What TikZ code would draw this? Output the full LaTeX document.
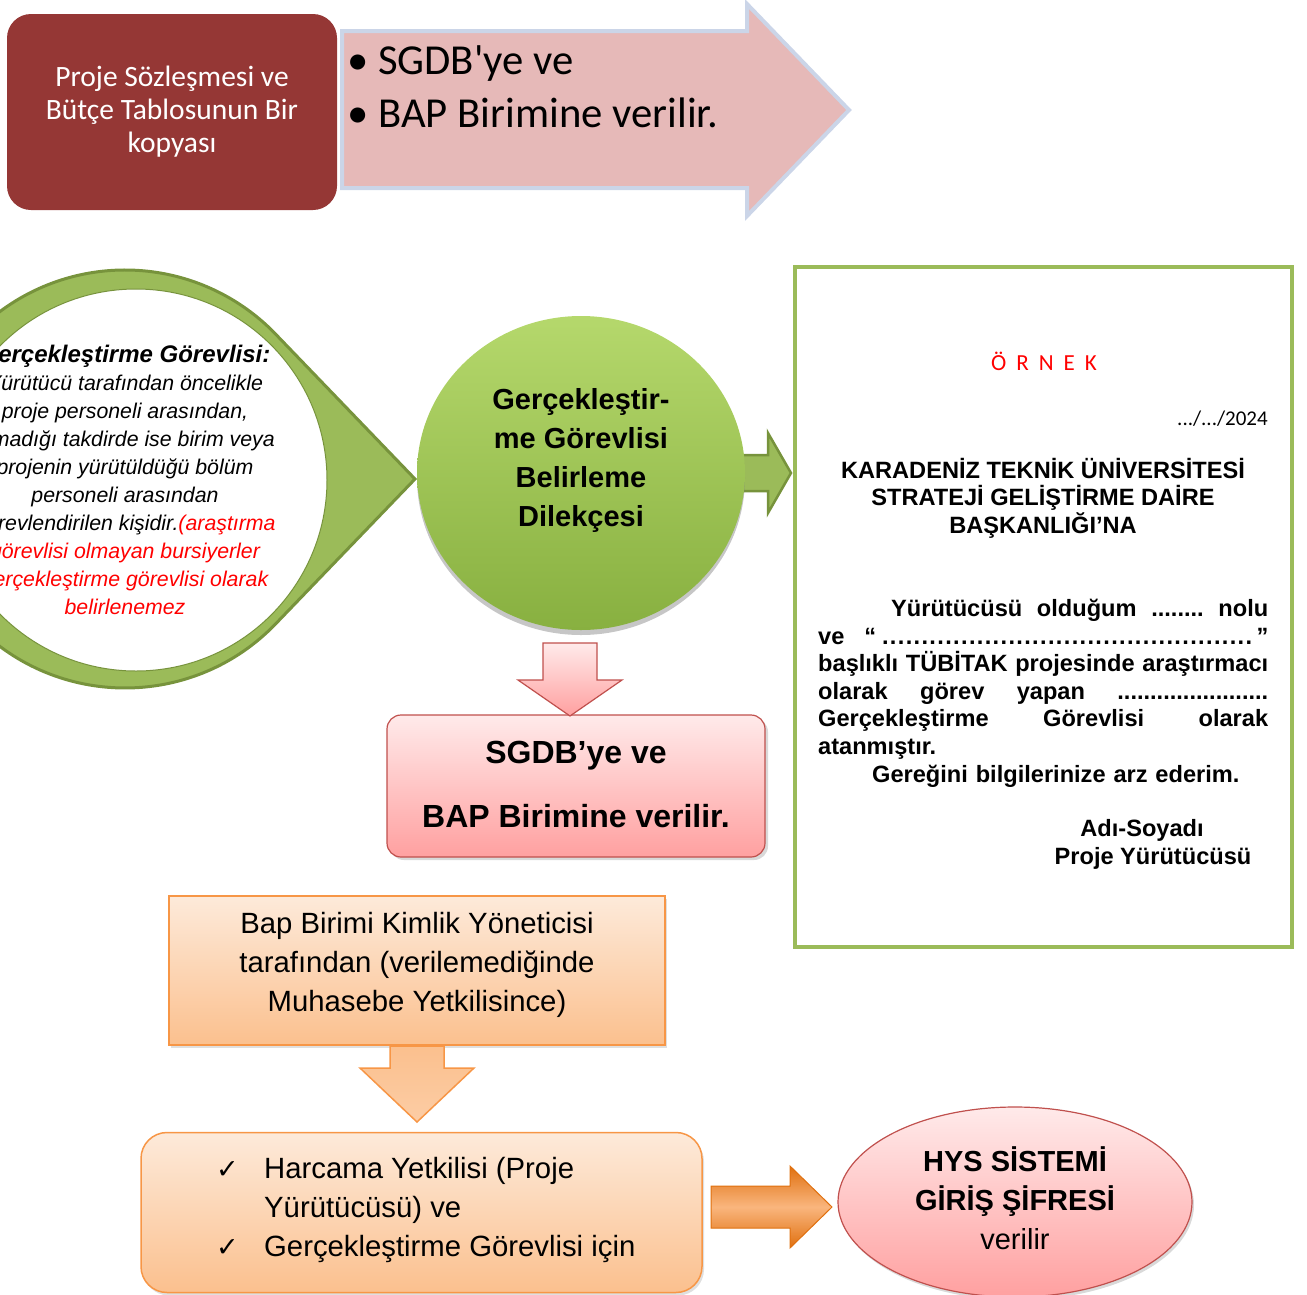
\documentclass[tikz,border=0pt]{standalone}
\usepackage{fontspec}
\setmainfont{Liberation Sans}
\newfontfamily\calibri{Carlito}
\newfontfamily\dejavu{DejaVu Sans}
\usepackage{xcolor}
\usepackage{tikz}
\usetikzlibrary{shapes,positioning,calc,shadows}

\definecolor{kutukirmizi}{HTML}{953735}
\definecolor{okpembe}{HTML}{E6B9B8}
\definecolor{okkenar}{HTML}{CBD5E8}
\definecolor{yesil}{HTML}{9BBB59}
\definecolor{koyuyesil}{HTML}{77933C}
\definecolor{topacik}{HTML}{B5D86C}
\definecolor{topkoyu}{HTML}{88B040}
\definecolor{turuncu}{HTML}{F79646}
\definecolor{koyuturuncu}{HTML}{E0700F}
\definecolor{acikturuncu}{HTML}{FDEADA}
\definecolor{seftali}{HTML}{FBC08E}
\definecolor{pembekenar}{HTML}{C0504D}
\definecolor{acikpembe}{HTML}{FFEAEA}
\definecolor{koyupembe}{HTML}{FFA0A0}

\tikzset{
  kirmizikutu/.style={rectangle, rounded corners=24pt, fill=kutukirmizi, text=white,
    minimum width=330pt, minimum height=196pt, align=center,
    font=\calibri\fontsize{29.5}{33}\selectfont},
  pembekutu/.style={rectangle, rounded corners=14pt, draw=pembekenar, line width=1.2pt,
    top color=acikpembe, bottom color=koyupembe, align=center,
    drop shadow={opacity=.3, shadow xshift=3pt, shadow yshift=-3pt}},
  turuncukutu/.style={rectangle, draw=turuncu, line width=1.5pt,
    top color=acikturuncu, bottom color=seftali,
    drop shadow={opacity=.25, shadow xshift=2pt, shadow yshift=-3pt}},
  belge/.style={font=\bfseries\fontsize{23.6}{27.6}\selectfont, inner sep=0pt},
}
\newcommand{\tikisareti}{\makebox[48pt][l]{\dejavu\fontsize{27}{27}\selectfont ✓}}

\begin{document}
\begin{tikzpicture}[x=1pt,y=-1pt]
    \useasboundingbox (0,0) rectangle (1307,1294);

    % ust ok ve kutu
    \draw[fill=okpembe, draw=okkenar, line width=4pt] (342,31) -- (747,31) -- (747,4) -- (849,110)
        -- (747,216) -- (747,188) -- (342,188) -- cycle;
    \node[anchor=west, inner sep=0pt, align=left, font=\calibri\fontsize{42.7}{53}\selectfont] (liste) at (347,87)
        {\makebox[31pt][l]{•}SGDB\textquotesingle ye ve\\\makebox[31pt][l]{•}BAP Birimine verilir.};
    \node[kirmizikutu] (kopya) at (172,112) {Proje Sözleşmesi ve\\Bütçe Tablosunun Bir\\kopyası};

    % yaprak
    \draw[fill=yesil, draw=koyuyesil, line width=3pt] (275.6,334.1) -- (415,479) -- (275.6,623.9)
        arc[start angle=43.9, end angle=316.1, radius=209] -- cycle;
    \draw[fill=white, draw=koyuyesil, line width=1pt] (136,480) circle[radius=191];
    \node[align=center, font=\itshape\fontsize{21.3}{28}\selectfont] (tanim) at (125,480)
        {{\bfseries\fontsize{24}{30}\selectfont Gerçekleştirme Görevlisi:}\\
         Yürütücü tarafından öncelikle\\
         proje personeli arasından,\\
         olmadığı takdirde ise birim veya\\
         projenin yürütüldüğü bölüm\\
         personeli arasından\\
         görevlendirilen kişidir.\textcolor{red}{(araştırma}\\
         \textcolor{red}{görevlisi olmayan bursiyerler}\\
         \textcolor{red}{gerçekleştirme görevlisi olarak}\\
         \textcolor{red}{belirlenemez}};

    % dilekce
    \draw[fill=yesil, draw=koyuyesil, line width=2.5pt] (735,455) -- (768,455) -- (768,433) -- (791,473)
        -- (768,513) -- (768,491) -- (735,491) -- cycle;
    \node[ellipse, minimum width=328pt, minimum height=314pt, top color=topacik, bottom color=topkoyu,
        drop shadow={opacity=.45, shadow xshift=0pt, shadow yshift=-5pt}] (dilekce) at (581,473) {};
    \node[align=center, font=\bfseries\fontsize{29}{39}\selectfont] (dilekceyazi) at (581,460.5)
        {Gerçekleştir-\\me Görevlisi\\Belirleme\\Dilekçesi};

    % ornek belge
    \node[draw=yesil, line width=4pt, fill=white, minimum width=497pt, minimum height=680pt, inner sep=0pt]
        (ornek) at (1043.5,607) {};
    \node[text=red, inner sep=0pt, anchor=base, font=\calibri\fontsize{23}{28}\selectfont] (ornekbaslik) at (1044,370)
        {Ö\hspace{10pt}R\hspace{10pt}N\hspace{10pt}E\hspace{10pt}K};
    \node[anchor=base east, inner sep=0pt, font=\calibri\fontsize{21}{25}\selectfont] (tarih) at (1268,425) {.../.../2024};
    \node[belge, align=center] (kurum) at (1043,498)
        {KARADENİZ TEKNİK ÜNİVERSİTESİ\\STRATEJİ GELİŞTİRME DAİRE\\BAŞKANLIĞI’NA};
    \node[belge, anchor=north west, text width=450pt, align=left] (metin) at (818,599)
        {\hyphenpenalty=10000
         \hspace*{73pt}Yürütücüsü\hfill olduğum\hfill ........\hfill nolu\\
         ve\hspace{20pt}“\kern-2pt\leaders\hbox to 7.9pt{\hss.\hss}\hfill\kern-2pt”\\
         başlıklı\hfill TÜBİTAK\hfill projesinde\hfill araştırmacı\\
         olarak\hfill görev\hfill yapan\hfill .......................\\
         Gerçekleştirme\hfill Görevlisi\hfill olarak\\
         atanmıştır.\\
         \hspace*{54pt}Gereğini bilgilerinize arz ederim.};
    \node[belge, anchor=base] (adsoyad) at (1142,836) {Adı-Soyadı};
    \node[belge, anchor=base] (yurutucu) at (1153,864) {Proje Yürütücüsü};

    % sgdb kutusu
    \node[pembekutu, minimum width=378pt, minimum height=142pt] (sgdb) at (576,786) {};
    \node[align=center, font=\bfseries\fontsize{32}{64}\selectfont] (sgdbyazi) at (576,784) {SGDB’ye ve\\BAP Birimine verilir.};
    \draw[draw=pembekenar, line width=1.2pt, top color=acikpembe, bottom color=koyupembe]
        (543,643) -- (597,643) -- (597,680) -- (622,680) -- (570,716) -- (518,680) -- (543,680) -- cycle;

    % kimlik yoneticisi
    \node[turuncukutu, minimum width=496pt, minimum height=149pt] (kimlik) at (417,970.5) {};
    \node[align=center, font=\fontsize{29.3}{39}\selectfont] (kimlikyazi) at (417,964.5)
        {Bap Birimi Kimlik Yöneticisi\\tarafından (verilemediğinde\\Muhasebe Yetkilisince)};
    \draw[draw=turuncu, line width=1.5pt, top color=seftali, bottom color=seftali!80!white]
        (390,1046) -- (444,1046) -- (444,1068) -- (474,1068) -- (417,1122) -- (360,1068) -- (390,1068) -- cycle;

    % harcama yetkilisi
    \node[turuncukutu, rounded corners=26pt, minimum width=561pt, minimum height=160pt] (harcama) at (421.5,1212.5) {};
    \node[anchor=west, align=left, inner sep=0pt, font=\fontsize{29.3}{39}\selectfont] (harcamayazi) at (216,1210)
        {\tikisareti Harcama Yetkilisi (Proje\\
         \hspace*{48pt}Yürütücüsü) ve\\
         \tikisareti Gerçekleştirme Görevlisi için};
    \draw[draw=koyuturuncu, line width=1pt, top color=koyuturuncu, bottom color=koyuturuncu, middle color=turuncu!70!white]
        (711,1186) -- (790,1186) -- (790,1166) -- (832,1207) -- (790,1248) -- (790,1228) -- (711,1228) -- cycle;

    % hys
    \node[ellipse, minimum width=354pt, minimum height=190pt, draw=pembekenar, line width=1.2pt,
        top color=acikpembe, bottom color=koyupembe,
        drop shadow={opacity=.3, shadow xshift=2pt, shadow yshift=-3pt}] (hys) at (1015,1202) {};
    \node[align=center, font=\fontsize{29}{39}\selectfont] (hysyazi) at (1015,1198)
        {\textbf{HYS SİSTEMİ}\\\textbf{GİRİŞ ŞİFRESİ}\\verilir};
\end{tikzpicture}
\end{document}
